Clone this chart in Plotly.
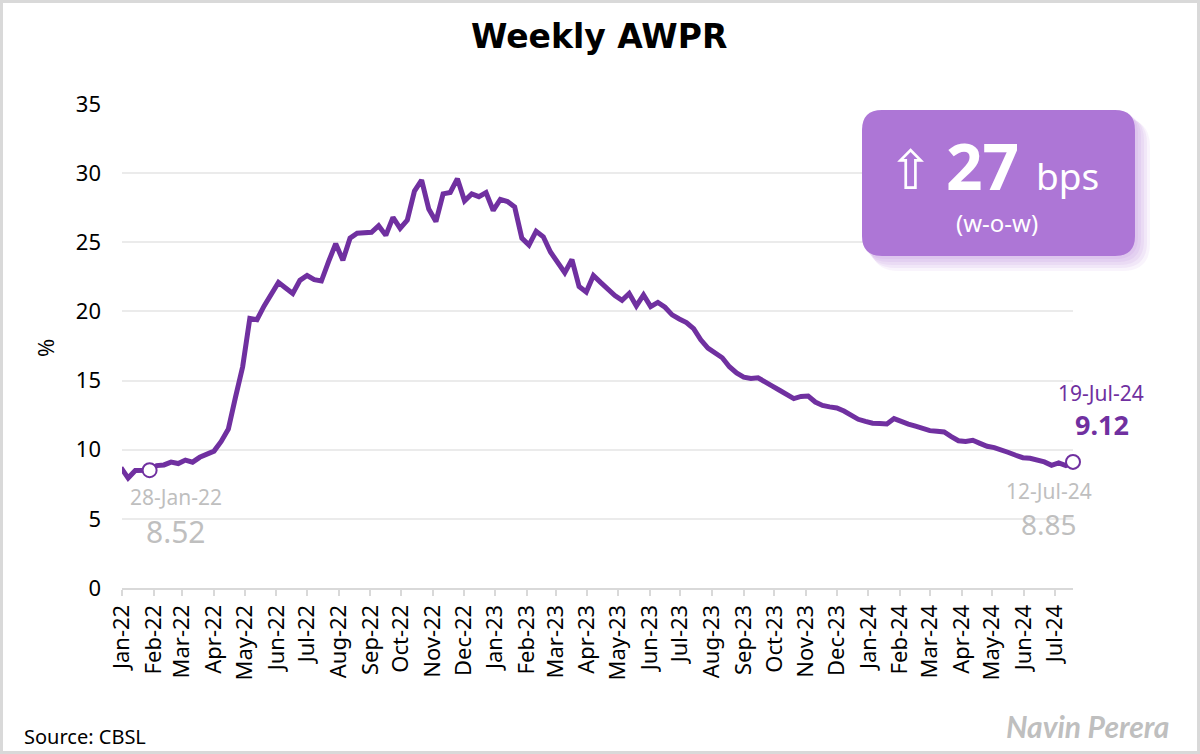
import pandas as pd
import plotly.graph_objects as go

# ---------------- data ----------------
start_date = "2021-12-31"   # first weekly observation (Friday)
awpr = [
    8.70, 7.95, 8.50, 8.55, 8.52, 8.85, 8.90, 9.10, 9.00, 9.25,
    9.10, 9.45, 9.70, 9.90, 10.60, 11.50, 13.80, 16.00, 19.50, 19.40,
    20.40, 21.30, 22.10, 21.70, 21.30, 22.25, 22.60, 22.30, 22.20, 23.60,
    24.90, 23.70, 25.30, 25.65, 25.70, 25.72, 26.20, 25.50, 26.80, 26.00,
    26.60, 28.70, 29.50, 27.40, 26.50, 28.50, 28.60, 29.60, 28.00, 28.50,
    28.30, 28.60, 27.30, 28.10, 27.95, 27.55, 25.30, 24.80, 25.80, 25.40,
    24.30, 23.50, 22.80, 23.75, 21.80, 21.40, 22.60, 22.10, 21.60, 21.15,
    20.80, 21.30, 20.40, 21.20, 20.35, 20.65, 20.30, 19.75, 19.45, 19.20,
    18.75, 17.95, 17.35, 17.00, 16.65, 16.00, 15.55, 15.25, 15.15, 15.20,
    14.85, 14.60, 14.30, 14.00, 13.70, 13.85, 13.88, 13.45, 13.20, 13.10,
    13.02, 12.80, 12.45, 12.20, 12.05, 11.92, 11.90, 11.86, 12.25, 12.00,
    11.85, 11.70, 11.50, 11.38, 11.33, 11.28, 10.95, 10.65, 10.60, 10.68,
    10.46, 10.25, 10.15, 10.00, 9.80, 9.60, 9.42, 9.38, 9.28, 9.12,
    8.87, 9.05, 8.85, 9.12,
]
dates = pd.date_range(start_date, periods=len(awpr), freq="7D")
y_ticks = [0, 5, 10, 15, 20, 25, 30, 35]
highlight_idx = [4, len(awpr) - 2, len(awpr) - 1]  # 28-Jan-22, 12-Jul-24, 19-Jul-24
title_text = "Weekly AWPR"
source_text = "Source: CBSL"
credit_text = "Navin Perera"

# ---------------- style ----------------
PURPLE = "#7030A0"
BOX = "#AD76D6"
GREY_TXT = "#BFBFBF"
FONT = "Noto Sans"

ML, MR, MT, MB = 122, 127, 104, 166
W, H = 1200, 754
PW, PH = W - ML - MR, H - MT - MB


def px(x):
    return (x - ML) / PW


def py(y):
    return (H - MB - y) / PH


def rrect(x0, y0, x1, y1, r):
    pts = [
        ("M", [(x0 + r, y0)]), ("L", [(x1 - r, y0)]), ("Q", [(x1, y0), (x1, y0 + r)]),
        ("L", [(x1, y1 - r)]), ("Q", [(x1, y1), (x1 - r, y1)]), ("L", [(x0 + r, y1)]),
        ("Q", [(x0, y1), (x0, y1 - r)]), ("L", [(x0, y0 + r)]), ("Q", [(x0, y0), (x0 + r, y0)]),
    ]
    s = ""
    for cmd, ps in pts:
        s += cmd + " " + " ".join(f"{px(a):.5f},{py(b):.5f}" for a, b in ps) + " "
    return s + "Z"


fig = go.Figure()
fig.add_trace(go.Scatter(
    x=dates, y=awpr, mode="lines",
    line=dict(color=PURPLE, width=5), hoverinfo="skip", showlegend=False,
))
fig.add_trace(go.Scatter(
    x=[dates[i] for i in (highlight_idx[0], highlight_idx[2])],
    y=[awpr[i] for i in (highlight_idx[0], highlight_idx[2])],
    mode="markers", cliponaxis=False,
    marker=dict(size=14, color="white", line=dict(color=PURPLE, width=2)),
    hoverinfo="skip", showlegend=False,
))

shapes = []
# outer frame
shapes.append(dict(type="rect", xref="paper", yref="paper",
                   x0=px(1.5), x1=px(W - 1.5), y0=py(H - 1.5), y1=py(1.5),
                   line=dict(color="#D9D9D9", width=3), fillcolor="rgba(0,0,0,0)", layer="above"))
# box shadow
for off, op in [(3, 0.10), (6, 0.10), (9, 0.10), (12, 0.10), (15, 0.08)]:
    shapes.append(dict(type="path", xref="paper", yref="paper",
                       path=rrect(862 + off * 0.6, 110 + off * 0.6, 1135 + off, 256 + off, 20 + off * 0.5),
                       fillcolor=BOX, opacity=op, line=dict(width=0), layer="above"))
shapes.append(dict(type="path", xref="paper", yref="paper",
                   path=rrect(862, 110, 1135, 256, 20),
                   fillcolor=BOX, line=dict(width=0), layer="above"))

i0, i1, i2 = highlight_idx
chg_bps = round((awpr[i2] - awpr[i1]) * 100)

ann = []


def lbl(i, txt, size, color, dx, dy, weight="normal"):
    return dict(x=dates[i], y=awpr[i], xref="x", yref="y", text=txt, showarrow=False,
                xshift=dx, yshift=dy, xanchor="center", yanchor="middle", borderpad=0,
                font=dict(family=FONT, size=size, color=color, weight=weight))


ann.append(lbl(i0, dates[i0].strftime("%d-%b-%y"), 21, GREY_TXT, 26, -27))
ann.append(lbl(i0, f"{awpr[i0]:.2f}", 30, GREY_TXT, 26, -61))
ann.append(lbl(i1, dates[i1].strftime("%d-%b-%y"), 21, GREY_TXT, -17, -25))
ann.append(lbl(i1, f"{awpr[i1]:.2f}", 28, GREY_TXT, -17, -58))
ann.append(lbl(i2, dates[i2].strftime("%d-%b-%y"), 21, PURPLE, 28, 69))
ann.append(lbl(i2, f"{awpr[i2]:.2f}", 27, PURPLE, 29, 37, weight="bold"))


def box_txt(txt, x, y, size, weight="normal", family=FONT):
    return dict(x=px(x), y=py(y), xref="paper", yref="paper", text=txt, showarrow=False,
                xanchor="center", yanchor="middle",
                font=dict(family=family, size=size, color="white", weight=weight))


arrow = "⇧" if chg_bps >= 0 else "⇩"
ann.append(box_txt(arrow, 910, 170, 54, family="DejaVu Sans"))
ann.append(box_txt(f"{abs(chg_bps)}", 982, 165, 64, weight="bold"))
ann.append(box_txt("bps", 1067, 176, 37))
ann.append(box_txt("(w-o-w)", 997, 222, 24))

# y-axis title
ann.append(dict(x=px(45), y=py(348), xref="paper", yref="paper", text="%", showarrow=False,
                xanchor="center", yanchor="middle",
                textangle=-90, font=dict(family=FONT, size=22, color="black")))
# title
ann.append(dict(x=px(599), y=py(36), xref="paper", yref="paper", text=title_text, showarrow=False,
                xanchor="center", yanchor="middle",
                font=dict(family="DejaVu Sans", size=33, color="black", weight="bold")))
# source
ann.append(dict(x=px(22), y=py(736), xref="paper", yref="paper", text=source_text, showarrow=False,
                xanchor="left", yanchor="middle",
                font=dict(family=FONT, size=20, color="black")))
# credit
ann.append(dict(x=px(1088), y=py(726), xref="paper", yref="paper", text=f"<i>{credit_text}</i>",
                showarrow=False, xanchor="center", yanchor="middle",
                font=dict(family="Lato", size=30, color=GREY_TXT, weight="bold")))

fig.update_layout(
    width=W, height=H,
    margin=dict(l=ML, r=MR, t=MT, b=MB, pad=0),
    paper_bgcolor="white", plot_bgcolor="white",
    shapes=shapes, annotations=ann,
    showlegend=False,
)
fig.update_xaxes(
    type="date", range=["2022-01-01", dates[-1].strftime("%Y-%m-%d")],
    tick0="2022-01-01", dtick="M1", tickformat="%b-%y", tickangle=-90,
    ticks="outside", ticklen=6, tickwidth=1.5, tickcolor="#D9D9D9",
    showline=True, linecolor="#D9D9D9", linewidth=2,
    showgrid=False, zeroline=False,
    tickfont=dict(family=FONT, size=22, color="black"),
)
fig.update_yaxes(
    range=[0, 35], tickvals=y_ticks, ticktext=[str(v) for v in y_ticks],
    showgrid=True, gridcolor="#EBEBEB", gridwidth=1.5, zeroline=False,
    showline=False, ticks="", ticklabelstandoff=20,
    tickfont=dict(family=FONT, size=22, color="black"),
)

fig.write_html("out.html")
